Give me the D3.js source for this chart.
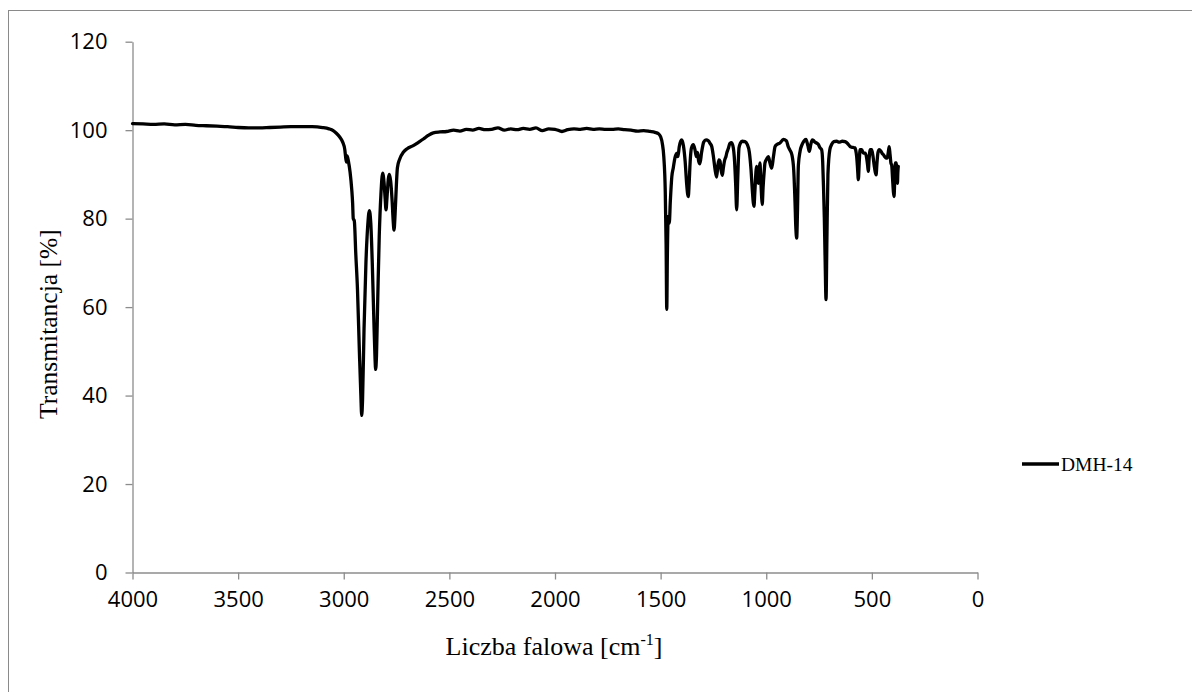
<!DOCTYPE html>
<html>
<head>
<meta charset="utf-8">
<script src="https://cdn.jsdelivr.net/npm/d3@7"></script>
<style>
  html, body { margin: 0; padding: 0; background: #fff; }
  svg { display: block; }
</style>
</head>
<body>
<svg id="chart" width="1192" height="692"></svg>
<script>
// IR spectrum of DMH-14: wavenumber (cm-1) and transmittance (%), row by row
const wavenumber = [
  4000, 3950, 3900, 3850, 3800, 3750, 3700, 3650, 3600, 3550, 3500, 3450, 3400, 3350,
  3300, 3250, 3200, 3150, 3100, 3070, 3050, 3035, 3020, 3005, 2995, 2990, 2987, 2984,
  2978, 2970, 2962, 2958, 2955, 2950, 2943, 2935, 2926, 2919, 2915, 2911, 2904, 2895,
  2887, 2879, 2872, 2865, 2858, 2852, 2849, 2845, 2839, 2832, 2824, 2816, 2809, 2804,
  2800, 2795, 2789, 2784, 2778, 2771, 2766, 2762, 2757, 2751, 2746, 2735, 2718, 2700,
  2671, 2645, 2623, 2600, 2576, 2545, 2513, 2480, 2450, 2420, 2390, 2360, 2330, 2300,
  2270, 2240, 2210, 2180, 2150, 2120, 2090, 2060, 2030, 2000, 1967, 1940, 1910, 1880,
  1850, 1820, 1790, 1760, 1730, 1700, 1670, 1640, 1610, 1580, 1550, 1527, 1510, 1500,
  1492, 1485, 1478, 1474, 1471, 1468, 1464, 1459, 1454, 1447, 1440, 1432, 1427, 1422,
  1418, 1412, 1405, 1400, 1392, 1384, 1377, 1372, 1369, 1365, 1360, 1354, 1345, 1337,
  1331, 1325, 1320, 1314, 1306, 1296, 1285, 1274, 1266, 1258, 1250, 1242, 1235, 1229,
  1224, 1219, 1214, 1208, 1203, 1197, 1191, 1186, 1180, 1172, 1164, 1156, 1150, 1145,
  1140, 1135, 1129, 1122, 1114, 1101, 1090, 1080, 1072, 1066, 1061, 1058, 1054, 1048,
  1045, 1041, 1038, 1034, 1030, 1026, 1022, 1019, 1015, 1010, 1006, 998, 990, 982,
  974, 966, 958, 948, 935, 919, 905, 896, 888, 879, 870, 864, 860, 856,
  852, 848, 840, 830, 822, 812, 803, 796, 789, 782, 777, 770, 762, 754,
  745, 738, 733, 729, 725, 721, 717, 713, 708, 699, 690, 680, 667, 655,
  640, 627, 615, 603, 590, 580, 577, 572, 568, 564, 560, 556, 548, 540,
  532, 525, 520, 517, 513, 508, 501, 495, 489, 484, 480, 476, 471, 465,
  458, 452, 446, 439, 433, 427, 423, 418, 414, 410, 406, 402, 398, 395,
  392, 389, 385, 382, 379, 377, 375
];
const transmittance = [
  101.5, 101.4, 101.3, 101.4, 101.2, 101.3, 101.1, 101.0, 100.9, 100.8, 100.6, 100.5, 100.5, 100.6,
  100.7, 100.8, 100.8, 100.8, 100.6, 100.3, 99.9, 99.3, 98.5, 97.3, 95.6, 93.5, 92.8, 94.2,
  93.0, 90.5, 86.5, 83.5, 80.0, 79.5, 72.0, 64.0, 50.0, 40.0, 35.5, 39.0, 55.0, 70.0,
  78.0, 81.8, 79.0, 70.0, 58.0, 48.5, 45.9, 49.0, 62.0, 76.0, 85.5, 90.3, 88.0, 84.5,
  82.0, 85.0, 89.0, 90.0, 88.5, 84.0, 79.5, 77.4, 81.0, 87.5, 91.5, 93.5, 95.0, 95.8,
  96.5, 97.3, 98.0, 98.8, 99.4, 99.6, 99.7, 100.0, 99.8, 100.2, 100.0, 100.4, 100.1, 100.2,
  100.5, 100.0, 100.3, 100.1, 100.4, 100.2, 100.5, 99.9, 100.3, 100.2, 99.7, 100.1, 100.3, 100.2,
  100.4, 100.2, 100.3, 100.2, 100.2, 100.3, 100.1, 100.0, 99.8, 99.9, 99.7, 99.5, 99.2, 98.5,
  97.0, 94.0, 86.0, 74.0, 59.5, 72.0, 80.5, 79.0, 84.0, 89.5, 91.5, 93.8, 94.5, 94.8,
  94.0, 96.2, 97.5, 97.8, 96.5, 93.0, 88.0, 85.5, 85.0, 88.0, 93.0, 96.0, 96.7, 95.5,
  94.0, 95.0, 93.0, 92.4, 95.0, 97.3, 97.8, 97.6, 97.0, 96.3, 94.0, 91.0, 89.4, 92.0,
  93.3, 93.0, 91.0, 89.8, 91.5, 93.2, 94.0, 95.0, 95.8, 97.0, 97.2, 96.0, 93.0, 88.0,
  82.0, 89.0, 96.0, 97.1, 97.5, 97.4, 96.8, 95.0, 91.0, 86.5, 83.5, 82.8, 86.0, 91.0,
  91.8, 89.5, 88.0, 90.5, 92.6, 89.0, 85.0, 83.2, 87.0, 90.5, 92.6, 93.5, 94.0, 92.5,
  91.4, 94.0, 96.3, 96.8, 97.1, 97.9, 97.6, 96.3, 95.5, 94.5, 91.0, 84.0, 78.0, 75.6,
  82.0, 92.0, 95.2, 96.8, 97.5, 97.9, 96.5, 95.2, 96.8, 97.8, 97.7, 97.3, 97.1, 96.8,
  96.0, 95.6, 93.0, 87.3, 80.0, 70.0, 61.7, 75.0, 90.0, 95.6, 96.8, 97.4, 97.5, 97.3,
  97.5, 97.4, 97.0, 96.3, 96.1, 96.0, 95.6, 94.0, 91.5, 88.8, 92.5, 95.6, 95.6, 94.8,
  94.8, 93.8, 92.0, 90.7, 93.5, 95.6, 95.6, 94.2, 92.0, 90.5, 89.9, 92.5, 95.0, 95.6,
  95.3, 94.8, 94.5, 94.0, 93.7, 93.7, 94.8, 96.3, 94.5, 92.6, 92.0, 89.0, 86.0, 85.0,
  88.5, 92.6, 92.6, 89.0, 88.0, 90.5, 91.8
];
const yTicks = [0, 20, 40, 60, 80, 100, 120];
const xTicks = [4000, 3500, 3000, 2500, 2000, 1500, 1000, 500, 0];
const seriesName = "DMH-14";

const svg = d3.select("#chart");
const W = 1192, H = 692;
const plot = { left: 132.5, right: 977.5, top: 41.7, bottom: 572.5 };
const axisGrey = "#8c8c8c";

// outer chart frame
svg.append("rect")
  .attr("x", 8.5).attr("y", 10.5)
  .attr("width", W + 20).attr("height", H + 20)
  .attr("fill", "none").attr("stroke", "#8a8a8a").attr("stroke-width", 1);

const x = d3.scaleLinear().domain([4000, 0]).range([plot.left, plot.right]);
const y = d3.scaleLinear().domain([0, 120]).range([plot.bottom, plot.top]);
const fmt = d3.format("d");

// y axis
const yAxis = svg.append("g")
  .attr("transform", `translate(${plot.left},0)`)
  .call(d3.axisLeft(y).tickValues(yTicks).tickFormat(fmt)
    .tickSize(7).tickPadding(18).tickSizeOuter(0));
yAxis.select(".domain").attr("stroke", axisGrey).attr("stroke-width", 1.3);
yAxis.selectAll(".tick line").attr("stroke", axisGrey).attr("stroke-width", 1.3);
yAxis.selectAll(".tick text")
  .attr("font-family", "'Open Sans', sans-serif").attr("font-size", 22).attr("fill", "#000");

// x axis
const xAxis = svg.append("g")
  .attr("transform", `translate(0,${plot.bottom})`)
  .call(d3.axisBottom(x).tickValues(xTicks).tickFormat(fmt)
    .tickSize(7).tickPadding(12).tickSizeOuter(0));
xAxis.select(".domain").attr("stroke", axisGrey).attr("stroke-width", 1.3);
xAxis.selectAll(".tick line").attr("stroke", axisGrey).attr("stroke-width", 1.3);
xAxis.selectAll(".tick text")
  .attr("font-family", "'Open Sans', sans-serif").attr("font-size", 22).attr("fill", "#000");

// spectrum trace
const pts = wavenumber.map((w, i) => [w, transmittance[i]]);
svg.append("path")
  .datum(pts)
  .attr("fill", "none")
  .attr("stroke", "#000")
  .attr("stroke-width", 3.3)
  .attr("stroke-linejoin", "round")
  .attr("stroke-linecap", "round")
  .attr("d", d3.line().x(d => x(d[0])).y(d => y(d[1])).curve(d3.curveMonotoneX));

// axis titles
svg.append("text")
  .attr("transform", `translate(57,${(plot.top + plot.bottom) / 2 + 17}) rotate(-90)`)
  .attr("text-anchor", "middle")
  .attr("font-family", "'Liberation Serif', 'Times New Roman', serif")
  .attr("font-size", 25.5)
  .text("Transmitancja [%]");

const xt = svg.append("text")
  .attr("x", (plot.left + plot.right) / 2 - 1)
  .attr("y", 655)
  .attr("text-anchor", "middle")
  .attr("font-family", "'Liberation Serif', 'Times New Roman', serif")
  .attr("font-size", 26);
xt.append("tspan").text("Liczba falowa [cm");
xt.append("tspan").attr("dy", -10).attr("font-size", 16).text("-1");
xt.append("tspan").attr("dy", 10).text("]");

// legend
const lg = svg.append("g").attr("transform", "translate(1022,464)");
lg.append("line").attr("x1", 0).attr("x2", 37).attr("y1", 0).attr("y2", 0)
  .attr("stroke", "#000").attr("stroke-width", 3.3);
lg.append("text").attr("x", 39).attr("y", 7)
  .attr("font-family", "'Liberation Serif', 'Times New Roman', serif")
  .attr("font-size", 19.5)
  .text(seriesName);
</script>
</body>
</html>
